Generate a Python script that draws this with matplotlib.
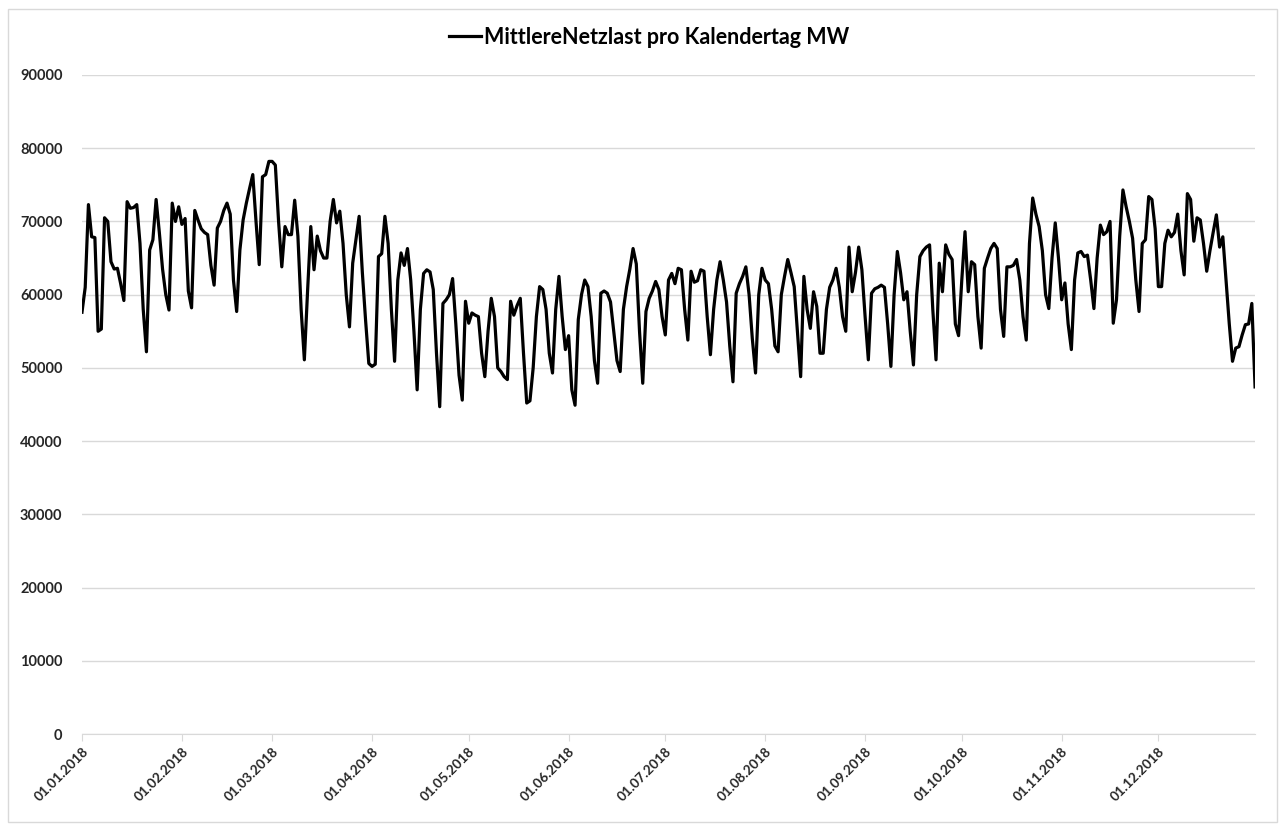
import pandas as pd
import matplotlib.pyplot as plt
import matplotlib.dates as mdates
from matplotlib.patches import Rectangle

plt.rcParams['font.family'] = ['Lato', 'DejaVu Sans']

# daily mean net load in MW, 2018
jan = [57600, 61000, 72300, 67900, 67800, 55000, 55300, 70500, 70000, 64500,
       63500, 63600, 61500, 59200, 72700, 71800, 71900, 72300, 67000, 58000,
       52200, 66100, 67500, 73000, 68500, 63500, 60000, 57900, 72500, 70000,
       72000]
feb = [69600, 70400, 60500, 58200, 71500, 70200, 69000, 68500, 68200, 64000,
       61300, 69100, 70000, 71500, 72500, 71000, 62000, 57700, 66100, 70200,
       72500, 74500, 76400, 70000, 64100, 76100, 76400, 78200]
mar = [78200, 77700, 70000, 63800, 69300, 68200, 68200, 72900, 68000, 58000,
       51100, 60500, 69300, 63400, 68000, 66000, 65000, 65000, 70000, 73000,
       69800, 71400, 67000, 60000, 55600, 64300, 67500, 70700, 63000, 56500,
       50600]
apr = [50200, 50500, 65200, 65600, 70700, 67000, 58000, 50900, 62000, 65700,
       64000, 66300, 62000, 55000, 47000, 58000, 62900, 63400, 63100, 60700,
       52000, 44700, 58800, 59300, 60000, 62200, 56000, 49000, 45600, 59100]
may = [56100, 57500, 57200, 57000, 52000, 48800, 55000, 59500, 57000, 50000,
       49500, 48800, 48400, 59100, 57200, 58500, 59500, 52000, 45200, 45500,
       50000, 57000, 61100, 60700, 58000, 52000, 49300, 58000, 62500, 57000,
       52500]
jun = [54400, 47000, 44900, 56600, 60000, 62000, 61100, 57000, 51000, 47900,
       60200, 60500, 60200, 59000, 55000, 51000, 49500, 58000, 61100, 63500,
       66300, 64200, 55000, 47900, 57700, 59500, 60500, 61800, 60700, 57000]
jul = [54500, 62000, 62900, 61500, 63600, 63400, 58000, 53800, 63200, 61700,
       61900, 63400, 63200, 57000, 51800, 58000, 62000, 64500, 62000, 59000,
       53000, 48100, 60200, 61500, 62500, 63800, 60000, 54000, 49300, 60000,
       63600]
aug = [62000, 61500, 58000, 53000, 52200, 60000, 62500, 64800, 63000, 61100,
       55000, 48800, 62500, 58000, 55400, 60400, 58400, 52000, 52000, 58000,
       61000, 62000, 63600, 61000, 57000, 55000, 66500, 60400, 63000, 66500,
       63400]
sep = [57000, 51100, 60200, 60800, 61000, 61300, 61000, 56000, 50200, 60000,
       65900, 63000, 59300, 60400, 55000, 50400, 60000, 65200, 66000, 66500,
       66800, 58000, 51100, 64300, 60400, 66800, 65500, 64800, 56000, 54400]
okt = [62000, 68600, 60400, 64500, 64100, 57000, 52700, 63600, 65000, 66300,
       67000, 66300, 58000, 54300, 63800, 63800, 64000, 64800, 62000, 57000,
       53800, 67000, 73200, 71000, 69300, 66000, 60000, 58100, 65000, 69800,
       65000]
nov = [59300, 61600, 56000, 52500, 62000, 65700, 65900, 65200, 65400, 62000,
       58100, 65000, 69500, 68200, 68600, 70000, 56100, 59300, 68000, 74300,
       72000, 70000, 67700, 62000, 57700, 67000, 67500, 73400, 73000, 69000]
dez = [61100, 61100, 67000, 68800, 67900, 68500, 71000, 66000, 62700, 73800,
       73000, 67300, 70500, 70200, 67000, 63200, 66000, 68500, 70900, 66500,
       67900, 62000, 56000, 50900, 52700, 52900, 54500, 55900, 56000, 58800,
       47400]

werte = jan + feb + mar + apr + may + jun + jul + aug + sep + okt + nov + dez
tage = pd.date_range('2018-01-01', '2018-12-31', freq='D')
y_ticks = list(range(0, 90001, 10000))

fig = plt.figure(figsize=(12.85, 8.25), dpi=100)
ax = fig.add_axes([0.0638, 0.1103, 0.9129, 0.7988])

ax.plot(tage, werte, color='black', linewidth=2.3,
        label='MittlereNetzlast pro Kalendertag MW')

ax.set_ylim(0, 90000)
ax.set_xlim(tage[0], tage[-1])
ax.set_yticks(y_ticks)
ax.yaxis.grid(True, color='#d9d9d9', linewidth=1)
ax.set_axisbelow(True)

ax.xaxis.set_major_locator(mdates.MonthLocator())
ax.xaxis.set_major_formatter(mdates.DateFormatter('%d.%m.%Y'))

for s in ['top', 'right', 'left']:
    ax.spines[s].set_visible(False)
ax.spines['bottom'].set_color('#d9d9d9')
ax.tick_params(axis='y', length=0, pad=14, labelsize=10.5)
ax.tick_params(axis='x', length=5, color='#d9d9d9', pad=3, labelsize=9.8)
for lab in ax.get_yticklabels():
    lab.set_fontweight('bold')
    lab.set_color('#262626')
for lab in ax.get_xticklabels():
    lab.set_fontweight('bold')
    lab.set_color('#262626')
    lab.set_rotation(45)
    lab.set_ha('right')
    lab.set_rotation_mode('anchor')

fig.legend(loc='center', bbox_to_anchor=(0.505, 0.955), frameon=False,
           handlelength=1.5, handletextpad=0.15,
           prop={'weight': 'bold', 'size': 15.5})

fig.patches.append(Rectangle((0.006, 0.004), 0.988, 0.985, transform=fig.transFigure,
                             fill=False, edgecolor='#d9d9d9', linewidth=1))

fig.savefig('out.png', dpi=100)
